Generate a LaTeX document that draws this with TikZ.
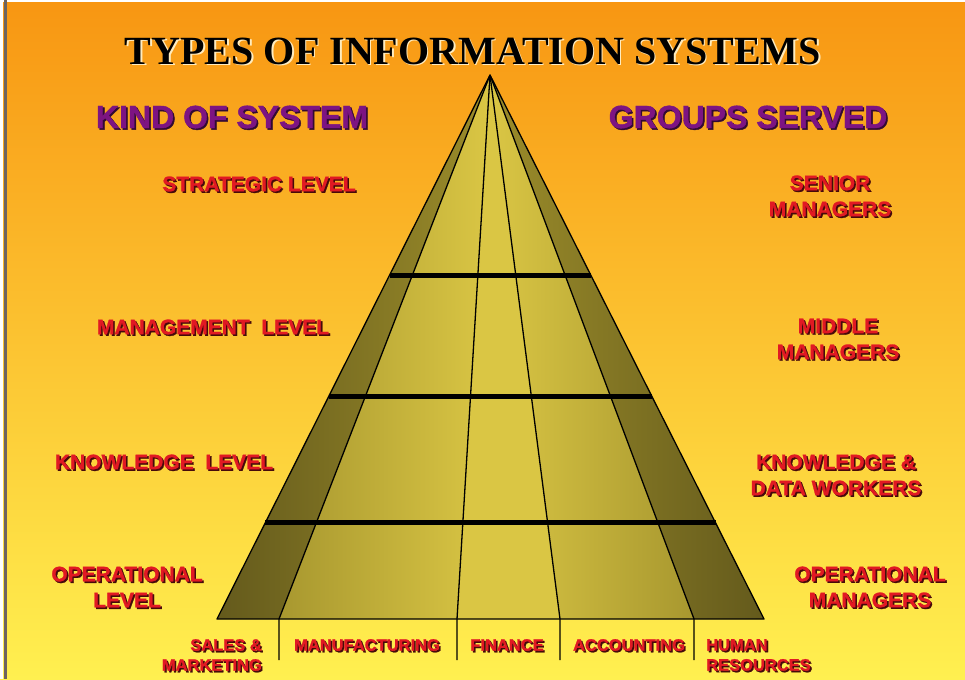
\documentclass[tikz,border=0pt]{standalone}
\usepackage{fontspec}
\setmainfont{Liberation Serif}
\setsansfont{Liberation Sans}[BoldFeatures={FakeBold=1.3}]
\usetikzlibrary{calc}
\definecolor{bgtop}{RGB}{248,150,18}
\definecolor{bgmid}{RGB}{253,196,48}
\definecolor{bgbot}{RGB}{255,240,80}
\definecolor{lblred}{RGB}{225,25,35}
\definecolor{lblshadow}{RGB}{70,10,10}
\definecolor{kindpurple}{RGB}{125,20,130}
\definecolor{kindshadow}{RGB}{50,10,50}
\definecolor{titleshadow}{RGB}{255,236,190}
\definecolor{olivedark}{RGB}{100,90,28}
\definecolor{olivemid}{RGB}{155,140,42}
\definecolor{olivelight}{RGB}{218,198,68}
\definecolor{edgegray}{RGB}{110,100,95}
\newcommand{\shtext}[6]{%
  \node[#4sh,#5] (#1-sh) at (#2+1.6,#3+1.6) {#6};
  \node[#4,#5] (#1) at (#2,#3) {#6};}
\begin{document}
\begin{tikzpicture}[x=1pt,y=-1pt,
  ttl/.style={font={\fontsize{40}{44}\selectfont\bfseries}, text=black, inner sep=0},
  ttlsh/.style={ttl, text=titleshadow},
  kind/.style={font={\sffamily\fontsize{32}{36}\selectfont\bfseries}, text=kindpurple, inner sep=0},
  kindsh/.style={kind, text=kindshadow},
  redlbl/.style={font={\sffamily\fontsize{21}{26}\selectfont\bfseries}, text=lblred, align=center, inner sep=0},
  redlblsh/.style={redlbl, text=lblshadow},
  botlbl/.style={font={\sffamily\fontsize{16.5}{20}\selectfont\bfseries}, text=lblred, inner sep=0},
  botlblsh/.style={botlbl, text=lblshadow},
  thinline/.style={draw=black, line width=1.3pt, line join=round},
  levelbar/.style={draw=black, line width=5pt},
]
\useasboundingbox (0,0) rectangle (965,679);
% background
\shade[top color=bgtop, middle color=bgmid, bottom color=bgbot] (0,0) rectangle (965,679);
\fill[white] (0,0) rectangle (3,679);
\fill[white] (0,0) rectangle (965,2);
\draw[edgegray, line width=3pt] (5,0) -- (5,679);

% pyramid geometry
\coordinate (A) at (490,75);
\coordinate (B0) at (217,619);
\coordinate (B1) at (279,619);
\coordinate (B2) at (457,619);
\coordinate (B3) at (560,619);
\coordinate (B4) at (694,619);
\coordinate (B5) at (764,619);
\coordinate (D1) at (279,660);
\coordinate (D2) at (457,660);
\coordinate (D3) at (560,660);
\coordinate (D4) at (694,660);

% columns
\shade[left color=olivedark, right color=olivemid] (A) -- (B0) -- (B1) -- cycle;
\shade[left color=olivemid!80!olivelight, right color=olivelight] (A) -- (B1) -- (B2) -- cycle;
\fill[olivelight] (A) -- (B2) -- (B3) -- cycle;
\shade[left color=olivelight, right color=olivemid!80!olivelight] (A) -- (B3) -- (B4) -- cycle;
\shade[left color=olivemid, right color=olivedark] (A) -- (B4) -- (B5) -- cycle;

% dividers
\draw[thinline] (A) -- (B1) -- (D1);
\draw[thinline] (A) -- (B2) -- (D2);
\draw[thinline] (A) -- (B3) -- (D3);
\draw[thinline] (A) -- (B4) -- (D4);
\draw[thinline] (A) -- (B0) -- (B5) -- cycle;

% level bars
\coordinate (L1) at ($(A)!0.368!(B0)$);
\coordinate (R1) at ($(A)!0.368!(B5)$);
\coordinate (L2) at ($(A)!0.591!(B0)$);
\coordinate (R2) at ($(A)!0.591!(B5)$);
\coordinate (L3) at ($(A)!0.823!(B0)$);
\coordinate (R3) at ($(A)!0.823!(B5)$);
\draw[levelbar] (L1) -- (R1);
\draw[levelbar] (L2) -- (R2);
\draw[levelbar] (L3) -- (R3);

% titles
\shtext{title}{473}{51}{ttl}{}{TYPES OF INFORMATION SYSTEMS}
\shtext{kind}{232}{117}{kind}{}{KIND OF SYSTEM}
\shtext{groups}{748}{117}{kind}{}{GROUPS SERVED}

% left labels
\shtext{strategic}{259}{184}{redlbl}{}{STRATEGIC LEVEL}
\shtext{management}{213}{327}{redlbl}{}{MANAGEMENT\ \ LEVEL}
\shtext{knowledge}{164}{462}{redlbl}{}{KNOWLEDGE\ \ LEVEL}
\shtext{operational}{127}{587}{redlbl}{}{OPERATIONAL\\LEVEL}

% right labels
\shtext{senior}{830}{196}{redlbl}{}{SENIOR\\MANAGERS}
\shtext{middle}{838}{339}{redlbl}{}{MIDDLE\\MANAGERS}
\shtext{workers}{836}{475}{redlbl}{}{KNOWLEDGE \&\\DATA WORKERS}
\shtext{opmanagers}{870}{587}{redlbl}{}{OPERATIONAL\\MANAGERS}

% bottom labels
\shtext{sales}{262}{655}{botlbl}{anchor=east, align=right}{SALES \&\\MARKETING}
\shtext{manuf}{367}{645}{botlbl}{}{MANUFACTURING}
\shtext{finance}{507}{645}{botlbl}{}{FINANCE}
\shtext{accounting}{629}{645}{botlbl}{}{ACCOUNTING}
\shtext{human}{706}{655}{botlbl}{anchor=west, align=left}{HUMAN\\RESOURCES}
\end{tikzpicture}
\end{document}
